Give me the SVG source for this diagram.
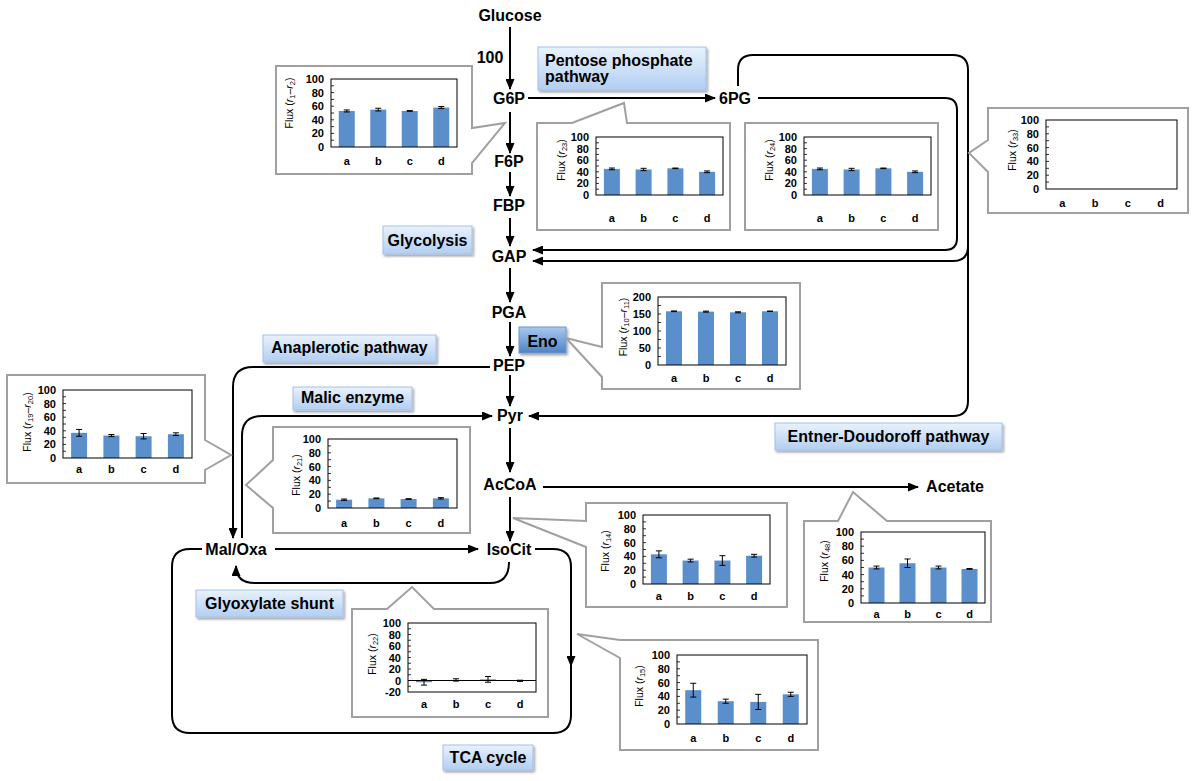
<svg xmlns="http://www.w3.org/2000/svg" width="1200" height="781" viewBox="0 0 1200 781">
<defs>
<linearGradient id="lb" x1="0" y1="0" x2="0" y2="1"><stop offset="0" stop-color="#e9f2fd"/><stop offset="1" stop-color="#b2cef1"/></linearGradient>
<linearGradient id="eno" x1="0" y1="0" x2="0" y2="1"><stop offset="0" stop-color="#a9c8ee"/><stop offset="1" stop-color="#4d83c7"/></linearGradient>
<filter id="sh" x="-10%" y="-20%" width="130%" height="160%"><feDropShadow dx="1.5" dy="2" stdDeviation="1.2" flood-color="#000" flood-opacity="0.35"/></filter>
<marker id="ah" markerUnits="userSpaceOnUse" markerWidth="11" markerHeight="9" refX="10" refY="4.5" orient="auto"><path d="M0,0 L11,4.5 L0,9 z" fill="#000"/></marker>
</defs>
<style>
.node{font-family:"Liberation Sans",Arial,sans-serif;font-weight:bold;font-size:16px;text-anchor:middle;fill:#000}
.lt{font-family:"Liberation Sans",Arial,sans-serif;font-weight:bold;font-size:16px;fill:#000}
.lbox{fill:url(#lb);stroke:#a3c1ea;stroke-width:1;filter:url(#sh)}
.box{fill:#fff;stroke:#a0a0a0;stroke-width:2}
.frame{fill:none;stroke:#000;stroke-width:1}
.bar{fill:#5b8fcc}
.err{stroke:#000;stroke-width:1;fill:none}
.tk{stroke:#000;stroke-width:0.8;fill:none}
.tl{font-family:"Liberation Sans",Arial,sans-serif;font-weight:bold;font-size:11px;text-anchor:end;fill:#000}
.cat{font-family:"Liberation Sans",Arial,sans-serif;font-weight:bold;font-size:11px;text-anchor:middle;fill:#000}
.ax{font-family:"Liberation Sans",Arial,sans-serif;font-size:10.5px;text-anchor:middle;fill:#000}
.sub{font-size:7.5px}
.conn{stroke:#000;stroke-width:2;fill:none}
</style>

<g id="connectors">
<path class="conn" d="M510,27 L510,89" marker-end="url(#ah)"/>
<path class="conn" d="M510,112 L510,153" marker-end="url(#ah)"/>
<path class="conn" d="M510,172 L510,196" marker-end="url(#ah)"/>
<path class="conn" d="M510,218 L510,246" marker-end="url(#ah)"/>
<path class="conn" d="M510,268 L510,302" marker-end="url(#ah)"/>
<path class="conn" d="M510,322 L510,356" marker-end="url(#ah)"/>
<path class="conn" d="M510,375 L510,406" marker-end="url(#ah)"/>
<path class="conn" d="M510,428 L510,472" marker-end="url(#ah)"/>
<path class="conn" d="M510,497 L510,541" marker-end="url(#ah)"/>
<path class="conn" d="M528,98 L715,98" marker-end="url(#ah)"/>
<path class="conn" d="M758,98 L945,98 Q957,98 957,110 L957,238 Q957,250 945,250 L533,250" marker-end="url(#ah)"/>
<path class="conn" d="M738,86 L738,70 Q738,55 753,55 L953,55 Q968,55 968,70 L968,246 Q968,261 953,261 L533,261" marker-end="url(#ah)"/>
<path class="conn" d="M968,246 L968,401 Q968,416 953,416 L529,416" marker-end="url(#ah)"/>
<path class="conn" d="M490,367 L253,367 Q233,367 233,387 L233,538" marker-end="url(#ah)"/>
<path class="conn" d="M242,538 L242,436 Q242,416 262,416 L492,416" marker-end="url(#ah)"/>
<path class="conn" d="M275,549 L478,549" marker-end="url(#ah)"/>
<path class="conn" d="M543,487 L918,487" marker-end="url(#ah)"/>
<path class="conn" d="M509,562 Q509,583 490,583 L255,583 Q236,583 236,566" marker-end="url(#ah)"/>
<path class="conn" d="M535,549 L553,549 Q571,549 571,567 L571,715 Q571,733 553,733 L190,733 Q172,733 172,715 L172,567 Q172,549 190,549 L202,549"/>
<path class="conn" d="M571,640 L571,666" marker-end="url(#ah)"/>
</g>

<g id="metabolites">
<g id="n-glucose"><text class="node" x="510" y="21">Glucose</text></g>
<g id="n-100"><text class="node" x="490" y="63">100</text></g>
<g id="n-g6p"><text class="node" x="509" y="104">G6P</text></g>
<g id="n-6pg"><text class="node" x="735" y="104">6PG</text></g>
<g id="n-f6p"><text class="node" x="509" y="167">F6P</text></g>
<g id="n-fbp"><text class="node" x="509" y="211">FBP</text></g>
<g id="n-gap"><text class="node" x="509" y="262">GAP</text></g>
<g id="n-pga"><text class="node" x="509" y="318">PGA</text></g>
<g id="n-pep"><text class="node" x="509" y="371">PEP</text></g>
<g id="n-pyr"><text class="node" x="510" y="421">Pyr</text></g>
<g id="n-accoa"><text class="node" x="510" y="490">AcCoA</text></g>
<g id="n-isocit"><text class="node" x="509" y="555">IsoCit</text></g>
<g id="n-maloxa"><text class="node" x="236" y="555">Mal/Oxa</text></g>
<g id="n-acetate"><text class="node" x="955" y="492">Acetate</text></g>
</g>

<g id="labels">
<g id="l-ppp"><rect class="lbox" x="538" y="47" width="168" height="43"/><text class="lt" x="545" y="66">Pentose phosphate</text><text class="lt" x="545" y="82">pathway</text></g>
<g id="l-glycolysis"><rect class="lbox" x="383" y="226" width="89" height="28"/><text class="node" x="427.5" y="246">Glycolysis</text></g>
<g id="l-eno"><rect x="519" y="327" width="47" height="26" fill="url(#eno)" stroke="#6f98cf" stroke-width="1" filter="url(#sh)"/><text class="node" x="542.5" y="347">Eno</text></g>
<g id="l-anaplerotic"><rect class="lbox" x="263" y="335" width="173" height="27"/><text class="node" x="349.5" y="353">Anaplerotic pathway</text></g>
<g id="l-malic"><rect class="lbox" x="293" y="387" width="119" height="23"/><text class="node" x="352.5" y="403">Malic enzyme</text></g>
<g id="l-ed"><rect class="lbox" x="775" y="423" width="227" height="27"/><text class="node" x="888.5" y="442">Entner-Doudoroff pathway</text></g>
<g id="l-glyoxylate"><rect class="lbox" x="196" y="590" width="147" height="27"/><text class="node" x="269.5" y="609">Glyoxylate shunt</text></g>
<g id="l-tca"><rect class="lbox" x="443" y="745" width="90" height="25"/><text class="node" x="488" y="763">TCA cycle</text></g>
</g>

<g id="chart-r1-r2">
<polygon class="box" points="276,66 472,66 472,128 505,123 472,163 472,174 276,174"/>
<rect class="bar" x="338.75" y="110.96" width="16" height="36.04"/>
<rect class="bar" x="370.25" y="109.6" width="16" height="37.4"/>
<rect class="bar" x="401.75" y="110.96" width="16" height="36.04"/>
<rect class="bar" x="433.25" y="107.56" width="16" height="39.44"/>
<path class="err" d="M346.75,109.94V111.98M343.75,109.94H349.75M343.75,111.98H349.75M378.25,108.24V110.96M375.25,108.24H381.25M375.25,110.96H381.25M409.75,110.62V111.3M406.75,110.62H412.75M406.75,111.3H412.75M441.25,106.54V108.58M438.25,106.54H444.25M438.25,108.58H444.25"/>
<rect class="frame" x="331" y="79" width="126" height="68"/>
<path class="tk" d="M331,85.8h3M331,92.6h3M331,99.4h3M331,106.2h3M331,113h3M331,119.8h3M331,126.6h3M331,133.4h3M331,140.2h3"/>
<text class="tl" x="324" y="83">100</text><text class="tl" x="324" y="96.6">80</text><text class="tl" x="324" y="110.2">60</text><text class="tl" x="324" y="123.8">40</text><text class="tl" x="324" y="137.4">20</text><text class="tl" x="324" y="151">0</text>
<text class="ax" transform="translate(293,103) rotate(-90)">Flux (<tspan font-style="italic">r</tspan><tspan class="sub" dy="2">1</tspan><tspan dy="-2">–</tspan><tspan font-style="italic">r</tspan><tspan class="sub" dy="2">2</tspan><tspan dy="-2">)</tspan></text>
<text class="cat" x="346.75" y="165">a</text><text class="cat" x="378.25" y="165">b</text><text class="cat" x="409.75" y="165">c</text><text class="cat" x="441.25" y="165">d</text>
</g>

<g id="chart-r23">
<polygon class="box" points="537,123 572,123 624,103 627,123 730,123 730,230 537,230"/>
<rect class="bar" x="603.9" y="168.9" width="16" height="26.1"/>
<rect class="bar" x="635.6" y="169.48" width="16" height="25.52"/>
<rect class="bar" x="667.4" y="168.32" width="16" height="26.68"/>
<rect class="bar" x="699.1" y="171.8" width="16" height="23.2"/>
<path class="err" d="M611.9,168.03V169.77M608.9,168.03H614.9M608.9,169.77H614.9M643.6,168.32V170.64M640.6,168.32H646.6M640.6,170.64H646.6M675.4,168.03V168.61M672.4,168.03H678.4M672.4,168.61H678.4M707.1,170.93V172.67M704.1,170.93H710.1M704.1,172.67H710.1"/>
<rect class="frame" x="596" y="137" width="127" height="58"/>
<path class="tk" d="M596,142.8h3M596,148.6h3M596,154.4h3M596,160.2h3M596,166h3M596,171.8h3M596,177.6h3M596,183.4h3M596,189.2h3"/>
<text class="tl" x="589" y="141">100</text><text class="tl" x="589" y="152.6">80</text><text class="tl" x="589" y="164.2">60</text><text class="tl" x="589" y="175.8">40</text><text class="tl" x="589" y="187.4">20</text><text class="tl" x="589" y="199">0</text>
<text class="ax" transform="translate(565,160) rotate(-90)">Flux (<tspan font-style="italic">r</tspan><tspan class="sub" dy="2">23</tspan><tspan dy="-2">)</tspan></text>
<text class="cat" x="611.9" y="222">a</text><text class="cat" x="643.6" y="222">b</text><text class="cat" x="675.4" y="222">c</text><text class="cat" x="707.1" y="222">d</text>
</g>

<g id="chart-r24">
<polygon class="box" points="745,123 938,123 938,230 745,230"/>
<rect class="bar" x="811.9" y="168.9" width="16" height="26.1"/>
<rect class="bar" x="843.6" y="169.48" width="16" height="25.52"/>
<rect class="bar" x="875.4" y="168.32" width="16" height="26.68"/>
<rect class="bar" x="907.1" y="171.8" width="16" height="23.2"/>
<path class="err" d="M819.9,168.03V169.77M816.9,168.03H822.9M816.9,169.77H822.9M851.6,168.32V170.64M848.6,168.32H854.6M848.6,170.64H854.6M883.4,168.03V168.61M880.4,168.03H886.4M880.4,168.61H886.4M915.1,170.93V172.67M912.1,170.93H918.1M912.1,172.67H918.1"/>
<rect class="frame" x="804" y="137" width="127" height="58"/>
<path class="tk" d="M804,142.8h3M804,148.6h3M804,154.4h3M804,160.2h3M804,166h3M804,171.8h3M804,177.6h3M804,183.4h3M804,189.2h3"/>
<text class="tl" x="797" y="141">100</text><text class="tl" x="797" y="152.6">80</text><text class="tl" x="797" y="164.2">60</text><text class="tl" x="797" y="175.8">40</text><text class="tl" x="797" y="187.4">20</text><text class="tl" x="797" y="199">0</text>
<text class="ax" transform="translate(773,160) rotate(-90)">Flux (<tspan font-style="italic">r</tspan><tspan class="sub" dy="2">24</tspan><tspan dy="-2">)</tspan></text>
<text class="cat" x="819.9" y="222">a</text><text class="cat" x="851.6" y="222">b</text><text class="cat" x="883.4" y="222">c</text><text class="cat" x="915.1" y="222">d</text>
</g>

<g id="chart-r33">
<polygon class="box" points="988,108 1188,108 1188,213 988,213 988,172 969,153 988,140"/>
<rect class="frame" x="1046" y="120" width="131" height="69"/>
<path class="tk" d="M1046,126.9h3M1046,133.8h3M1046,140.7h3M1046,147.6h3M1046,154.5h3M1046,161.4h3M1046,168.3h3M1046,175.2h3M1046,182.1h3"/>
<text class="tl" x="1039" y="124">100</text><text class="tl" x="1039" y="137.8">80</text><text class="tl" x="1039" y="151.6">60</text><text class="tl" x="1039" y="165.4">40</text><text class="tl" x="1039" y="179.2">20</text><text class="tl" x="1039" y="193">0</text>
<text class="ax" transform="translate(1016,150) rotate(-90)">Flux (<tspan font-style="italic">r</tspan><tspan class="sub" dy="2">33</tspan><tspan dy="-2">)</tspan></text>
<text class="cat" x="1062.4" y="207">a</text><text class="cat" x="1095.1" y="207">b</text><text class="cat" x="1127.9" y="207">c</text><text class="cat" x="1160.6" y="207">d</text>
</g>

<g id="chart-r10-r11">
<polygon class="box" points="602,283 800,283 800,389 602,389 602,377 566,338 602,347"/>
<rect class="bar" x="666" y="311.28" width="16" height="53.72"/>
<rect class="bar" x="698" y="311.62" width="16" height="53.38"/>
<rect class="bar" x="730" y="312.3" width="16" height="52.7"/>
<rect class="bar" x="762" y="311.28" width="16" height="53.72"/>
<path class="err" d="M674,310.94V311.62M671,310.94H677M671,311.62H677M706,311.11V312.13M703,311.11H709M703,312.13H709M738,311.79V312.81M735,311.79H741M735,312.81H741M770,311.08V311.48M767,311.08H773M767,311.48H773"/>
<rect class="frame" x="658" y="297" width="128" height="68"/>
<path class="tk" d="M658,305.5h3M658,314h3M658,322.5h3M658,331h3M658,339.5h3M658,348h3M658,356.5h3"/>
<text class="tl" x="651" y="301">200</text><text class="tl" x="651" y="318">150</text><text class="tl" x="651" y="335">100</text><text class="tl" x="651" y="352">50</text><text class="tl" x="651" y="369">0</text>
<text class="ax" transform="translate(627,327) rotate(-90)">Flux (<tspan font-style="italic">r</tspan><tspan class="sub" dy="2">10</tspan><tspan dy="-2">–</tspan><tspan font-style="italic">r</tspan><tspan class="sub" dy="2">11</tspan><tspan dy="-2">)</tspan></text>
<text class="cat" x="674" y="382">a</text><text class="cat" x="706" y="382">b</text><text class="cat" x="738" y="382">c</text><text class="cat" x="770" y="382">d</text>
</g>

<g id="chart-r19-r20">
<polygon class="box" points="7,375 205,375 205,440 231,455 205,470 205,483 7,483"/>
<rect class="bar" x="71.1" y="432.84" width="16" height="25.16"/>
<rect class="bar" x="103.4" y="435.56" width="16" height="22.44"/>
<rect class="bar" x="135.6" y="436.24" width="16" height="21.76"/>
<rect class="bar" x="167.9" y="434.2" width="16" height="23.8"/>
<path class="err" d="M79.1,429.44V436.24M76.1,429.44H82.1M76.1,436.24H82.1M111.4,434.54V436.58M108.4,434.54H114.4M108.4,436.58H114.4M143.6,433.52V438.96M140.6,433.52H146.6M140.6,438.96H146.6M175.9,432.84V435.56M172.9,432.84H178.9M172.9,435.56H178.9"/>
<rect class="frame" x="63" y="390" width="129" height="68"/>
<path class="tk" d="M63,396.8h3M63,403.6h3M63,410.4h3M63,417.2h3M63,424h3M63,430.8h3M63,437.6h3M63,444.4h3M63,451.2h3"/>
<text class="tl" x="56" y="394">100</text><text class="tl" x="56" y="407.6">80</text><text class="tl" x="56" y="421.2">60</text><text class="tl" x="56" y="434.8">40</text><text class="tl" x="56" y="448.4">20</text><text class="tl" x="56" y="462">0</text>
<text class="ax" transform="translate(31,422) rotate(-90)">Flux (<tspan font-style="italic">r</tspan><tspan class="sub" dy="2">19</tspan><tspan dy="-2">–</tspan><tspan font-style="italic">r</tspan><tspan class="sub" dy="2">20</tspan><tspan dy="-2">)</tspan></text>
<text class="cat" x="79.1" y="473">a</text><text class="cat" x="111.4" y="473">b</text><text class="cat" x="143.6" y="473">c</text><text class="cat" x="175.9" y="473">d</text>
</g>

<g id="chart-r21">
<polygon class="box" points="273,427 470,427 470,533 273,533 273,508 246,485 273,460"/>
<rect class="bar" x="336.1" y="499.72" width="16" height="8.28"/>
<rect class="bar" x="368.4" y="498.34" width="16" height="9.66"/>
<rect class="bar" x="400.6" y="499.03" width="16" height="8.97"/>
<rect class="bar" x="432.9" y="498.34" width="16" height="9.66"/>
<path class="err" d="M344.1,499.03V500.41M341.1,499.03H347.1M341.1,500.41H347.1M376.4,497.99V498.69M373.4,497.99H379.4M373.4,498.69H379.4M408.6,498.68V499.38M405.6,498.68H411.6M405.6,499.38H411.6M440.9,497.65V499.03M437.9,497.65H443.9M437.9,499.03H443.9"/>
<rect class="frame" x="328" y="439" width="129" height="69"/>
<path class="tk" d="M328,445.9h3M328,452.8h3M328,459.7h3M328,466.6h3M328,473.5h3M328,480.4h3M328,487.3h3M328,494.2h3M328,501.1h3"/>
<text class="tl" x="321" y="443">100</text><text class="tl" x="321" y="456.8">80</text><text class="tl" x="321" y="470.6">60</text><text class="tl" x="321" y="484.4">40</text><text class="tl" x="321" y="498.2">20</text><text class="tl" x="321" y="512">0</text>
<text class="ax" transform="translate(300,475) rotate(-90)">Flux (<tspan font-style="italic">r</tspan><tspan class="sub" dy="2">21</tspan><tspan dy="-2">)</tspan></text>
<text class="cat" x="344.1" y="527">a</text><text class="cat" x="376.4" y="527">b</text><text class="cat" x="408.6" y="527">c</text><text class="cat" x="440.9" y="527">d</text>
</g>

<g id="chart-r14">
<polygon class="box" points="586,503 787,503 787,607 586,607 586,547 513,518 586,521"/>
<rect class="bar" x="650.9" y="554.33" width="16" height="29.67"/>
<rect class="bar" x="682.6" y="560.54" width="16" height="23.46"/>
<rect class="bar" x="714.4" y="560.54" width="16" height="23.46"/>
<rect class="bar" x="746.1" y="555.71" width="16" height="28.29"/>
<path class="err" d="M658.9,550.88V557.78M655.9,550.88H661.9M655.9,557.78H661.9M690.6,559.16V561.92M687.6,559.16H693.6M687.6,561.92H693.6M722.4,555.71V565.37M719.4,555.71H725.4M719.4,565.37H725.4M754.1,554.33V557.09M751.1,554.33H757.1M751.1,557.09H757.1"/>
<rect class="frame" x="643" y="515" width="127" height="69"/>
<path class="tk" d="M643,521.9h3M643,528.8h3M643,535.7h3M643,542.6h3M643,549.5h3M643,556.4h3M643,563.3h3M643,570.2h3M643,577.1h3"/>
<text class="tl" x="636" y="519">100</text><text class="tl" x="636" y="532.8">80</text><text class="tl" x="636" y="546.6">60</text><text class="tl" x="636" y="560.4">40</text><text class="tl" x="636" y="574.2">20</text><text class="tl" x="636" y="588">0</text>
<text class="ax" transform="translate(609,551) rotate(-90)">Flux (<tspan font-style="italic">r</tspan><tspan class="sub" dy="2">14</tspan><tspan dy="-2">)</tspan></text>
<text class="cat" x="658.9" y="600">a</text><text class="cat" x="690.6" y="600">b</text><text class="cat" x="722.4" y="600">c</text><text class="cat" x="754.1" y="600">d</text>
</g>

<g id="chart-r48">
<polygon class="box" points="804,521 838,521 853,492 887,521 991,521 991,622 804,622"/>
<rect class="bar" x="868.5" y="567.5" width="16" height="35.5"/>
<rect class="bar" x="899.5" y="563.24" width="16" height="39.76"/>
<rect class="bar" x="930.5" y="567.5" width="16" height="35.5"/>
<rect class="bar" x="961.5" y="568.92" width="16" height="34.08"/>
<path class="err" d="M876.5,566.08V568.92M873.5,566.08H879.5M873.5,568.92H879.5M907.5,558.98V567.5M904.5,558.98H910.5M904.5,567.5H910.5M938.5,566.08V568.92M935.5,566.08H941.5M935.5,568.92H941.5M969.5,568.56V569.28M966.5,568.56H972.5M966.5,569.28H972.5"/>
<rect class="frame" x="861" y="532" width="124" height="71"/>
<path class="tk" d="M861,539.1h3M861,546.2h3M861,553.3h3M861,560.4h3M861,567.5h3M861,574.6h3M861,581.7h3M861,588.8h3M861,595.9h3"/>
<text class="tl" x="854" y="536">100</text><text class="tl" x="854" y="550.2">80</text><text class="tl" x="854" y="564.4">60</text><text class="tl" x="854" y="578.6">40</text><text class="tl" x="854" y="592.8">20</text><text class="tl" x="854" y="607">0</text>
<text class="ax" transform="translate(828,561) rotate(-90)">Flux (<tspan font-style="italic">r</tspan><tspan class="sub" dy="2">48</tspan><tspan dy="-2">)</tspan></text>
<text class="cat" x="876.5" y="618">a</text><text class="cat" x="907.5" y="618">b</text><text class="cat" x="938.5" y="618">c</text><text class="cat" x="969.5" y="618">d</text>
</g>

<g id="chart-r22">
<polygon class="box" points="352,609 387,609 412,587 434,609 548,609 548,717 352,717"/>
<rect class="bar" x="416" y="680.5" width="16" height="1.73"/>
<rect class="bar" x="448" y="679.93" width="16" height="0.57"/>
<rect class="bar" x="480" y="679.35" width="16" height="1.15"/>
<rect class="bar" x="512" y="680.5" width="16" height="0.3"/>
<path class="err" d="M424,679.35V685.1M421,679.35H427M421,685.1H427M456,678.78V681.08M453,678.78H459M453,681.08H459M488,676.48V682.23M485,676.48H491M485,682.23H491M520,680.21V681.36M517,680.21H523M517,681.36H523"/>
<path class="frame" d="M408,680.5H536"/>
<rect class="frame" x="408" y="623" width="128" height="69"/>
<path class="tk" d="M408,628.75h3M408,634.5h3M408,640.25h3M408,646h3M408,651.75h3M408,657.5h3M408,663.25h3M408,669h3M408,674.75h3M408,686.25h3"/>
<text class="tl" x="401" y="627">100</text><text class="tl" x="401" y="638.5">80</text><text class="tl" x="401" y="650">60</text><text class="tl" x="401" y="661.5">40</text><text class="tl" x="401" y="673">20</text><text class="tl" x="401" y="684.5">0</text><text class="tl" x="401" y="696">-20</text>
<text class="ax" transform="translate(376,654) rotate(-90)">Flux (<tspan font-style="italic">r</tspan><tspan class="sub" dy="2">22</tspan><tspan dy="-2">)</tspan></text>
<text class="cat" x="424" y="708">a</text><text class="cat" x="456" y="708">b</text><text class="cat" x="488" y="708">c</text><text class="cat" x="520" y="708">d</text>
</g>

<g id="chart-r15">
<polygon class="box" points="620,640 818,640 818,750 620,750 620,658 577,634"/>
<rect class="bar" x="685.25" y="690.19" width="16" height="33.81"/>
<rect class="bar" x="717.75" y="701.23" width="16" height="22.77"/>
<rect class="bar" x="750.25" y="701.92" width="16" height="22.08"/>
<rect class="bar" x="782.75" y="694.33" width="16" height="29.67"/>
<path class="err" d="M693.25,683.29V697.09M690.25,683.29H696.25M690.25,697.09H696.25M725.75,699.16V703.3M722.75,699.16H728.75M722.75,703.3H728.75M758.25,694.33V709.51M755.25,694.33H761.25M755.25,709.51H761.25M790.75,692.26V696.4M787.75,692.26H793.75M787.75,696.4H793.75"/>
<rect class="frame" x="677" y="655" width="130" height="69"/>
<path class="tk" d="M677,661.9h3M677,668.8h3M677,675.7h3M677,682.6h3M677,689.5h3M677,696.4h3M677,703.3h3M677,710.2h3M677,717.1h3"/>
<text class="tl" x="670" y="659">100</text><text class="tl" x="670" y="672.8">80</text><text class="tl" x="670" y="686.6">60</text><text class="tl" x="670" y="700.4">40</text><text class="tl" x="670" y="714.2">20</text><text class="tl" x="670" y="728">0</text>
<text class="ax" transform="translate(643,686) rotate(-90)">Flux (<tspan font-style="italic">r</tspan><tspan class="sub" dy="2">15</tspan><tspan dy="-2">)</tspan></text>
<text class="cat" x="693.25" y="742">a</text><text class="cat" x="725.75" y="742">b</text><text class="cat" x="758.25" y="742">c</text><text class="cat" x="790.75" y="742">d</text>
</g>
</svg>
